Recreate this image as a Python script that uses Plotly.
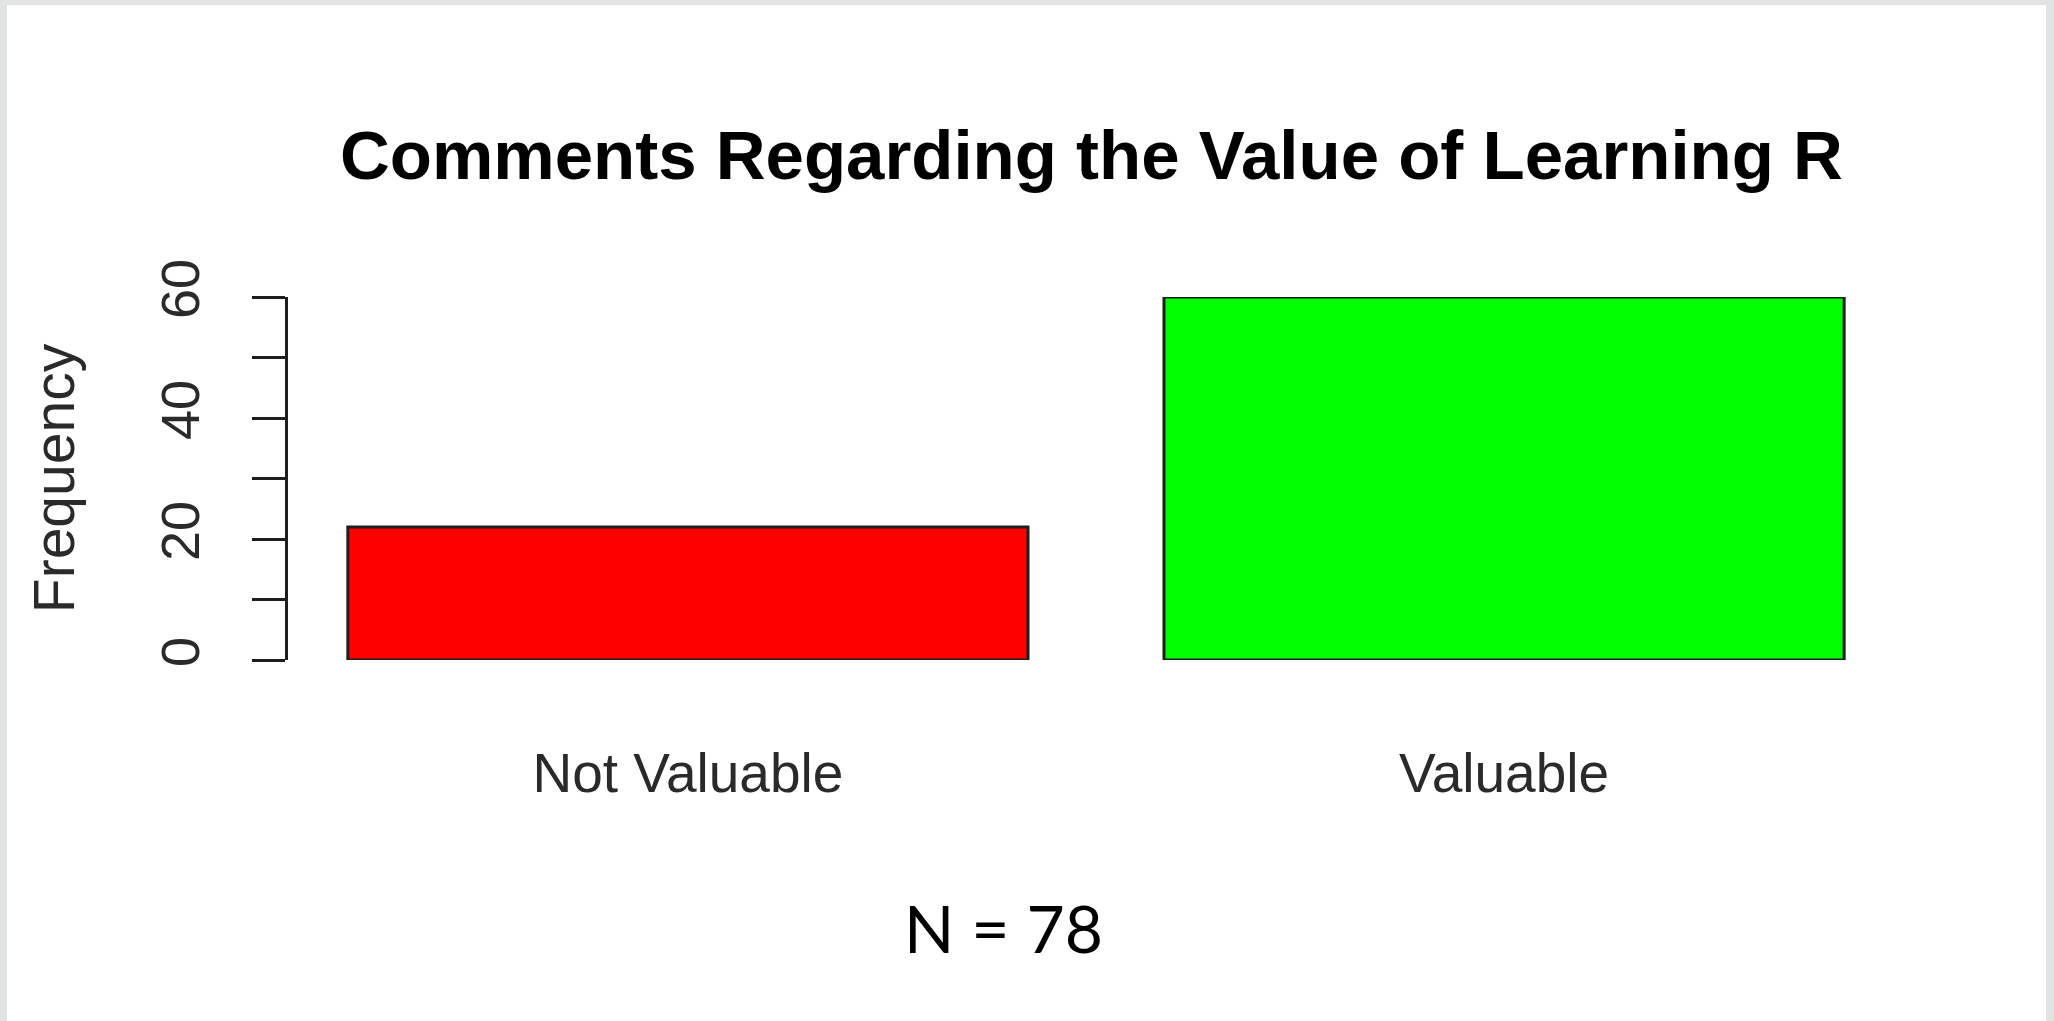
import plotly.graph_objects as go

# data
categories = ['Not Valuable', 'Valuable']
frequencies = [22, 60]
bar_colors = ['#ff0000', '#00ff00']
y_tick_values = [0, 20, 40, 60]
y_tick_labels = ['0', '20', '40', '60']
chart_title = 'Comments Regarding the Value of Learning R'
sample_note = 'N = 78'

FONT = 'Liberation Sans, Arial, sans-serif'
INK = '#1e1e1e'

fig = go.Figure()

fig.add_trace(go.Bar(
    x=categories,
    y=frequencies,
    marker=dict(color=bar_colors, line=dict(color=INK, width=3)),
    hovertemplate='%{x}: %{y}<extra></extra>'
))

fig.update_layout(
    width=2054,
    height=1021,
    margin=dict(l=288, r=150, t=297, b=361, autoexpand=False),
    paper_bgcolor='#e2e3e3',
    plot_bgcolor='white',
    showlegend=False,
    bargap=1 / 6,
    font=dict(family=FONT, color=INK),
)

# white slide area, grey strips left/top/right
fig.add_shape(type='rect', xref='paper', yref='paper',
              x0=-0.1739, x1=1.0879, y0=-1.3, y1=1.8044,
              fillcolor='white', line=dict(width=0), layer='below')

fig.update_xaxes(
    type='category',
    range=[-0.49, 1.49],
    showline=False,
    showgrid=False,
    zeroline=False,
    ticks='',
    tickfont=dict(size=55, family=FONT, color='#2a2a2a'),
    ticklabelstandoff=76,
)

fig.update_yaxes(
    range=[0, 60],
    showline=True,
    linecolor=INK,
    linewidth=3,
    showgrid=False,
    zeroline=False,
    ticks='outside',
    ticklen=33,
    tickwidth=3,
    tickcolor=INK,
    tickmode='array',
    tickvals=y_tick_values,
    ticktext=y_tick_labels,
    tickangle=-90,
    tickfont=dict(size=54, family=FONT, color='#2a2a2a'),
    ticklabelstandoff=31,
    minor=dict(tick0=0, dtick=10, ticks='outside', ticklen=33, tickwidth=3,
               tickcolor=INK, showgrid=False),
    title=dict(text='Frequency', font=dict(size=57, family=FONT, color='#2a2a2a'), standoff=58),
)

fig.add_annotation(
    text='<b>' + chart_title + '</b>',
    xref='paper', yref='paper', x=0.497, y=1.391,
    xanchor='center', yanchor='middle', showarrow=False,
    font=dict(size=69, family=FONT, color='black'),
)

fig.add_annotation(
    text=sample_note,
    xref='paper', yref='paper', x=0.443, y=-0.737,
    xanchor='center', yanchor='middle', showarrow=False,
    font=dict(size=66, family='Lato, Noto Sans, sans-serif', color='black'),
)

fig.write_html('out.html', config={'displayModeBar': False},
               post_script="document.body.style.margin='0';")
